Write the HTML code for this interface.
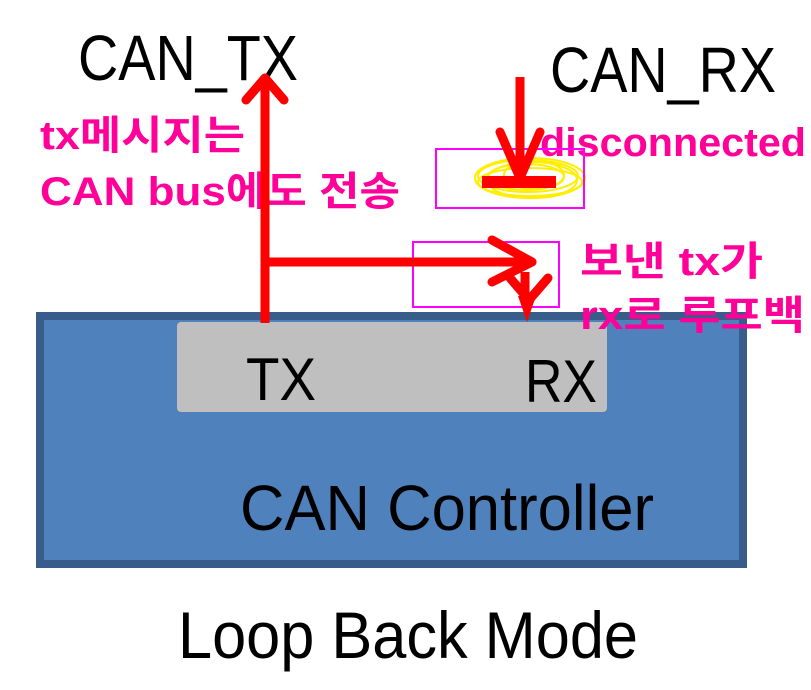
<!DOCTYPE html>
<html><head><meta charset="utf-8"><style>
html,body{margin:0;padding:0;background:#fff;}
svg{display:block;}
.k{font-family:"Liberation Sans Narrow","Liberation Sans",sans-serif;fill:#000;}
.p{font-family:"Liberation Sans","Noto Sans CJK KR",sans-serif;fill:#FF0099;font-weight:bold;}
</style></head><body>
<svg width="811" height="690" viewBox="0 0 811 690" xmlns="http://www.w3.org/2000/svg">
<rect x="40" y="316" width="703" height="248" fill="#4F81BD" stroke="#385D8A" stroke-width="8"/>
<rect x="177" y="322" width="430" height="90" rx="4" fill="#BFBFBF"/>
<text class="k" x="246" y="400" font-size="60" textLength="70" lengthAdjust="spacingAndGlyphs">TX</text>
<text class="k" x="525" y="402" font-size="60" textLength="72" lengthAdjust="spacingAndGlyphs">RX</text>
<text class="k" x="240" y="530" font-size="64" textLength="414" lengthAdjust="spacingAndGlyphs">CAN Controller</text>
<text class="k" x="178" y="658" font-size="66" textLength="460" lengthAdjust="spacingAndGlyphs">Loop Back Mode</text>
<text class="k" x="78" y="80" font-size="64" textLength="220" lengthAdjust="spacingAndGlyphs">CAN_TX</text>
<text class="k" x="550" y="92" font-size="64" textLength="226" lengthAdjust="spacingAndGlyphs">CAN_RX</text>
<text class="p" x="40" y="149" font-size="40" textLength="205" lengthAdjust="spacingAndGlyphs">tx메시지는</text>
<text class="p" x="40" y="205" font-size="40" textLength="360" lengthAdjust="spacingAndGlyphs">CAN bus에도 전송</text>
<text class="p" x="540" y="156" font-size="40" textLength="266" lengthAdjust="spacingAndGlyphs">disconnected</text>
<text class="p" x="580" y="275" font-size="40" textLength="183" lengthAdjust="spacingAndGlyphs">보낸 tx가</text>
<text class="p" x="580" y="329" font-size="40" textLength="225" lengthAdjust="spacingAndGlyphs">rx로 루프백</text>
<g fill="none" stroke="#FFEE00" stroke-width="2">
<ellipse cx="530" cy="178" rx="55" ry="20"/><ellipse cx="528" cy="176" rx="50" ry="16"/><ellipse cx="532" cy="180" rx="45" ry="18"/><ellipse cx="526" cy="177" rx="38" ry="13"/><ellipse cx="534" cy="175" rx="30" ry="14"/><ellipse cx="530" cy="182" rx="52" ry="14"/>
</g>
<rect x="436" y="149" width="148" height="59" fill="none" stroke="#FF00FF" stroke-width="2"/>
<rect x="413" y="242" width="146" height="65" fill="none" stroke="#FF00FF" stroke-width="2"/>
<g stroke="#FF0000" stroke-width="9" fill="none" stroke-linecap="round" stroke-linejoin="round">
<line x1="265" y1="323" x2="265" y2="80" stroke-linecap="butt"/>
<polyline points="246,100 265,78 284,100"/>
<line x1="265" y1="262" x2="532" y2="262"/>
<polyline points="492,240 532,262 492,282"/>
<line x1="520" y1="77" x2="520" y2="178" stroke-linecap="butt"/>
<polyline points="500,132 520,178 540,132"/>
<line x1="525" y1="272" x2="525" y2="300" stroke-linecap="butt"/>
<polyline points="510,278 529,300 548,278"/>
</g>
<rect x="482" y="176" width="74" height="12" fill="#FF0000"/>
<polygon points="518,296 536,296 527,322" fill="#FF0000"/>
</svg>
</body></html>
